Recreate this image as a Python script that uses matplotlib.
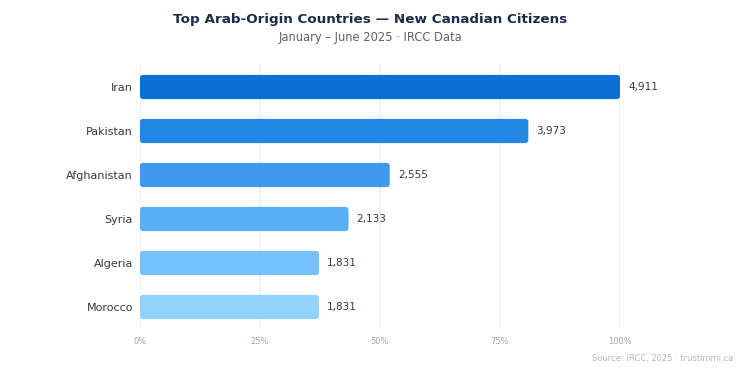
"""Top Arab-origin countries among new Canadian citizens, Jan-Jun 2025."""

import matplotlib

matplotlib.use("Agg")
import matplotlib.pyplot as plt
from matplotlib.patches import FancyBboxPatch

countries = ["Iran", "Pakistan", "Afghanistan", "Syria", "Algeria", "Morocco"]
citizens = [4911, 3973, 2555, 2133, 1831, 1831]
bar_colors = ["#0b6fd6", "#2388e3", "#3d9aec", "#58aff6", "#74c1fd", "#93d2fe"]
pct_ticks = [0, 0.25, 0.5, 0.75, 1.0]
pct_labels = ["0%", "25%", "50%", "75%", "100%"]

fig = plt.figure(figsize=(7.4, 3.7), dpi=100)
ax = fig.add_axes([140 / 740, 1 - 329 / 370, 480 / 740, 264 / 370])

top = max(citizens)
shares = [v / top for v in citizens]
ypos = list(range(len(countries)))[::-1]

bars = ax.barh(ypos, shares, height=0.55, color=bar_colors)
# swap plain rectangles for rounded ones
for bar, col in zip(bars, bar_colors):
    bar.set_visible(False)
    x0, y0 = bar.get_xy()
    patch = FancyBboxPatch(
        (x0, y0), bar.get_width(), bar.get_height(),
        boxstyle="round,pad=0,rounding_size=0.006",
        mutation_aspect=480 / 44, facecolor=col, edgecolor="none", zorder=3,
    )
    ax.add_patch(patch)

for y, s, v in zip(ypos, shares, citizens):
    ax.text(s + 0.017, y, f"{v:,}", va="center", ha="left",
            fontsize=7.5, color="#333a44", zorder=4)

ax.set_xlim(0, 1.0)
ax.set_ylim(-0.5, len(countries) - 0.5)
ax.set_yticks(ypos)
ax.set_yticklabels(countries, fontsize=8, color="#333a44")
ax.set_xticks(pct_ticks)
ax.set_xticklabels(pct_labels, fontsize=6, color="#9aa5b1")
ax.tick_params(axis="both", length=0)
ax.tick_params(axis="y", pad=5)
ax.tick_params(axis="x", pad=6)
ax.grid(axis="x", color="#f0f2f5", linewidth=1.5, zorder=0)
ax.set_axisbelow(True)
for sp in ax.spines.values():
    sp.set_visible(False)

fig.text(0.5, 1 - 19 / 370, "Top Arab-Origin Countries \u2014 New Canadian Citizens",
         ha="center", va="center", fontsize=9.7, fontweight="bold", color="#1b2b48")
fig.text(0.5, 1 - 38 / 370, "January \u2013 June 2025 \u00b7 IRCC Data",
         ha="center", va="center", fontsize=8.3, color="#5a6372")
fig.text(733 / 740, 1 - 358 / 370, "Source: IRCC, 2025 \u00b7 trustimmi.ca",
         ha="right", va="center", fontsize=6, color="#b3bac3")

fig.savefig("out.png", dpi=100, facecolor="white")
